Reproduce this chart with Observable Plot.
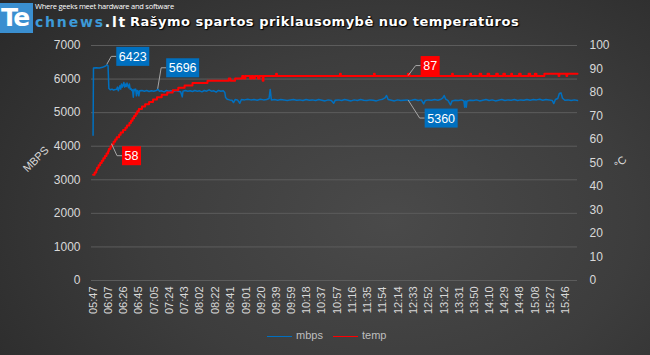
<!DOCTYPE html>
<html>
<head>
<meta charset="utf-8">
<script src="https://cdn.jsdelivr.net/npm/d3@7"></script>
<script src="https://cdn.jsdelivr.net/npm/@observablehq/plot@0.6"></script>
<style>
html,body{margin:0;padding:0;background:#2a2a2a;}
#chart{position:relative;width:650px;height:355px;overflow:hidden;
  background:radial-gradient(ellipse 75% 95% at 60% 62%, #4a4a4a 0%, #3d3d3d 50%, #2a2a2a 100%);
  font-family:"Liberation Sans",Arial,sans-serif;}
#chart svg{position:absolute;left:0;top:0;}
#logoBox{position:absolute;left:0;top:3px;width:33px;height:30px;background:#3a8fd0;color:#fff;
  font:bold 25px "DejaVu Sans",sans-serif;line-height:30px;letter-spacing:-1.5px;text-indent:1px;overflow:hidden;}
#logoRest{position:absolute;left:35px;top:12px;font:bold 14px "DejaVu Sans",sans-serif;letter-spacing:1.8px;color:#fff;line-height:20px;}
#logoRest span{color:#3d9ad8;}
#tag{position:absolute;left:35px;top:1px;font:7.5px "Open Sans",sans-serif;letter-spacing:-0.25px;color:#fff;line-height:11px;white-space:nowrap;}
#title{position:absolute;left:130px;top:13px;font:bold 13px "DejaVu Sans",sans-serif;letter-spacing:0.5px;color:#fff;
  text-shadow:0 0 2px #000,1px 1px 1px #000;white-space:nowrap;line-height:18px;}
#legend{position:absolute;top:328px;left:0;font:11px "Liberation Sans",sans-serif;color:#bfbfbf;}
.lg{position:absolute;white-space:nowrap;line-height:14px;}
.lg i{display:inline-block;width:25px;height:0;border-top:1.5px solid;vertical-align:middle;margin-right:4px;}
.axl{position:absolute;font:11px "Liberation Sans",sans-serif;color:#d9d9d9;transform:rotate(-45deg);transform-origin:center;white-space:nowrap;}
</style>
</head>
<body>
<div id="chart">
  <div id="tag">Where geeks meet hardware and software</div>
  <div id="logoBox">Te</div>
  <div id="logoRest"><span>chnews</span>.lt</div>
  <div id="title">Rašymo spartos priklausomybė nuo temperatūros</div>
</div>
<script>
// ---- data ----
const startClock = "05:47";
const xTickLabels = ["05:47","06:07","06:26","06:45","07:05","07:24","07:43","08:02","08:22","08:41","09:01","09:20","09:39","09:59","10:18","10:37","10:57","11:16","11:35","11:54","12:14","12:33","12:52","13:12","13:31","13:50","14:10","14:29","14:48","15:08","15:27","15:46"];
const mbpsTicks = [0,1000,2000,3000,4000,5000,6000,7000];
const tempTicks = [0,10,20,30,40,50,60,70,80,90,100];
const seriesNames = ["mbps","temp"];
// [minutes since 05:47, MB/s]
const mbpsSeries = [[0,4330],[0.5,6330],[4,6340],[8,6330],[12,6350],[15,6380],[18,6423],[19,6390],[20,5720],[22,5680],[24,5700],[26,5670],[28,5690],[30,5700],[31,5760],[32,5650],[34,5800],[35,5700],[36,5850],[37,5760],[38,5820],[39,5900],[40,5760],[41,5850],[42,5780],[43,5880],[44,5800],[45,5740],[46,5850],[47,5700],[48,5720],[49,5660],[50,5680],[51,5460],[52,5700],[53,5660],[54,5700],[55,5500],[56,5660],[57,5640],[58,5500],[59,5650],[62,5660],[65,5640],[68,5660],[71,5630],[74,5650],[77,5640],[80,5660],[82.5,5696],[84,5640],[87,5650],[90,5620],[93,5660],[96,5640],[99,5650],[102,5630],[105,5660],[108,5640],[111,5620],[113,5470],[114,5640],[117,5660],[120,5640],[123,5650],[126,5630],[129,5660],[132,5640],[135,5650],[138,5620],[141,5660],[144,5640],[147,5680],[150,5640],[153,5650],[156,5610],[159,5660],[162,5640],[165,5650],[167,5600],[168,5450],[170,5400],[173,5380],[176,5370],[178,5300],[180,5390],[183,5380],[186,5280],[188,5390],[192,5380],[196,5400],[200,5380],[204,5390],[208,5370],[212,5400],[216,5380],[220,5390],[223,5420],[224.5,5690],[226,5380],[230,5390],[234,5370],[238,5390],[242,5380],[246,5360],[250,5380],[254,5390],[258,5370],[262,5380],[266,5360],[270,5390],[274,5370],[278,5380],[282,5360],[286,5390],[290,5370],[294,5350],[298,5380],[302,5360],[305,5280],[307,5370],[311,5380],[315,5360],[319,5390],[323,5370],[327,5350],[331,5380],[335,5360],[339,5390],[343,5370],[347,5360],[351,5380],[355,5370],[359,5350],[363,5380],[367,5400],[370,5440],[372,5510],[374,5390],[378,5370],[382,5350],[386,5380],[390,5360],[394,5370],[398,5380],[400,5360],[404,5370],[408,5390],[412,5360],[416,5380],[419,5260],[421,5360],[425,5380],[429,5370],[433,5390],[437,5370],[441,5400],[443,5430],[445,5510],[447,5400],[450,5360],[453,5230],[455,5350],[459,5370],[463,5360],[467,5380],[470,5350],[471,5160],[472,5350],[473,5160],[474,5350],[478,5370],[482,5360],[486,5380],[490,5350],[494,5370],[498,5390],[502,5360],[506,5380],[510,5350],[514,5370],[518,5390],[522,5360],[526,5380],[530,5370],[534,5390],[538,5360],[542,5380],[546,5370],[550,5390],[554,5370],[558,5390],[562,5380],[566,5400],[570,5370],[574,5390],[578,5380],[582,5360],[584,5270],[586,5390],[589,5420],[591,5570],[593,5590],[595,5430],[598,5370],[602,5380],[606,5360],[610,5380],[614,5360]];
// [minutes since 05:47, °C]
const tempSeries = [[0,45],[2,46],[4,47],[5,48],[7,49],[9,50],[11,51],[13,52],[15,53],[17,54],[19,55],[20,56],[22,57],[24,58],[26,59],[28,60],[30,61],[33,62],[35,63],[38,64],[41,65],[43,66],[46,67],[48,68],[50,69],[52,70],[54,71],[56,72],[58,73],[62,74],[66,75],[71,76],[76,77],[81,78],[87,79],[94,80],[101,81],[108,82],[116,83],[126,84],[145,85],[172,86],[174,85],[180,86],[189,87],[191,86],[193,87],[199,86],[201,87],[203,86],[205,87],[209,86],[211,87],[215,85],[216,87],[232,88],[233,87],[313,88],[314,87],[356,88],[357,87],[399,88],[401,87],[455,88],[456,87],[478,88],[479,87],[490,88],[492,87],[500,88],[502,87],[511,88],[513,87],[520,88],[522,87],[530,88],[531,87],[540,88],[542,87],[552,88],[554,87],[560,88],[562,87],[572,88],[590,87],[591,88],[600,87],[601,88],[614,88]];
// callouts: [series, minutes, value]
const callouts = [["mbps",18,6423],["mbps",82.5,5696],["temp",24,58],["temp",400,87],["mbps",400,5360]];

// ---- derived ----
const toMin = s => { const [h,m] = s.split(":").map(Number); return h*60+m; };
const t0 = toMin(startClock);
const tickMinutes = xTickLabels.map(s => toMin(s) - t0);
const tickLabelAt = new Map(tickMinutes.map((m,i)=>[m, xTickLabels[i]]));
const tempFactor = 7000/100;
const mbpsData = mbpsSeries.map(([t,v])=>({t, v}));
const tempData = tempSeries.map(([t,v])=>({t, v}));
const colors = {mbps:"#0070c0", temp:"#ff0000"};
// style offsets for callout boxes (dx, dy of box centre relative to point)
const calloutStyle = [[26,-8],[25,-21],[20,12],[22,-10],[33,18]];

function calloutMark(index, scales) {
  const g = d3.create("svg:g").attr("font-family","Liberation Sans, Arial, sans-serif").attr("font-size",12.5);
  callouts.forEach(([s,t,v],i)=>{
    const px = scales.x(t), py = scales.y(s==="temp"? v*tempFactor : v);
    const [dx,dy] = calloutStyle[i];
    const label = String(v);
    const w = label.length*7 + 5, h = 19;
    const bx = px + dx - w/2, by = py + dy - h/2;
    const ex = bx, ey = py + dy;
    const kx = ex - 5;
    g.append("path").attr("d",`M${px},${py}L${kx},${ey}L${ex},${ey}`).attr("fill","none").attr("stroke","#a6a6a6").attr("stroke-width",1);
    g.append("rect").attr("x",bx).attr("y",by).attr("width",w).attr("height",h).attr("fill",colors[s]);
    g.append("text").attr("x",bx+w/2).attr("y",by+h/2).attr("dy","0.36em").attr("text-anchor","middle").attr("fill","#fff").text(label);
  });
  return g.node();
}

const plot = Plot.plot({
  width: 650, height: 355,
  marginTop: 45, marginBottom: 75, marginLeft: 91, marginRight: 73,
  style: {background:"transparent", color:"#d9d9d9", fontFamily:"Liberation Sans, Arial, sans-serif", fontSize:"11px", overflow:"visible"},
  x: {type:"linear", domain:[-2, 614]},
  y: {domain:[0, 7000]},
  marks: [
    Plot.gridY(mbpsTicks, {stroke:"#5c5c5c", strokeOpacity:1, strokeWidth:1}),
    Plot.axisY(mbpsTicks, {anchor:"left", tickSize:0, tickPadding:11, label:null, fontSize:12, tickFormat: d=>String(d)}),
    Plot.axisY(tempTicks.map(d=>d*tempFactor), {anchor:"right", tickSize:0, tickPadding:12, label:null, fontSize:12, tickFormat: d=>String(Math.round(d/tempFactor))}),
    Plot.axisX(tickMinutes, {anchor:"bottom", tickSize:0, tickPadding:6, tickRotate:-90, label:null, fontSize:11, tickFormat: d=>tickLabelAt.get(d)}),
    Plot.line(mbpsData, {x:"t", y:"v", stroke:colors.mbps, strokeWidth:1.5}),
    Plot.line(tempData, {x:"t", y:d=>d.v*tempFactor, stroke:colors.temp, strokeWidth:2, curve:"step-after"}),
    calloutMark
  ]
});
const chart = document.getElementById("chart");
chart.insertBefore(plot, chart.firstChild);

// axis titles
const yl = document.createElement("div"); yl.className="axl"; yl.textContent="MBPS";
yl.style.left="20px"; yl.style.top="153px"; chart.appendChild(yl);
const yr = document.createElement("div"); yr.className="axl"; yr.textContent="°C";
yr.style.left="614px"; yr.style.top="156px"; chart.appendChild(yr);

// legend
const legend = document.createElement("div"); legend.id="legend";
[["mbps",267],["temp",333]].forEach(([s,x])=>{
  const d = document.createElement("div"); d.className="lg"; d.style.left=x+"px";
  d.innerHTML = `<i style="border-color:${colors[s]}"></i>${s}`;
  legend.appendChild(d);
});
chart.appendChild(legend);
</script>
</body>
</html>
